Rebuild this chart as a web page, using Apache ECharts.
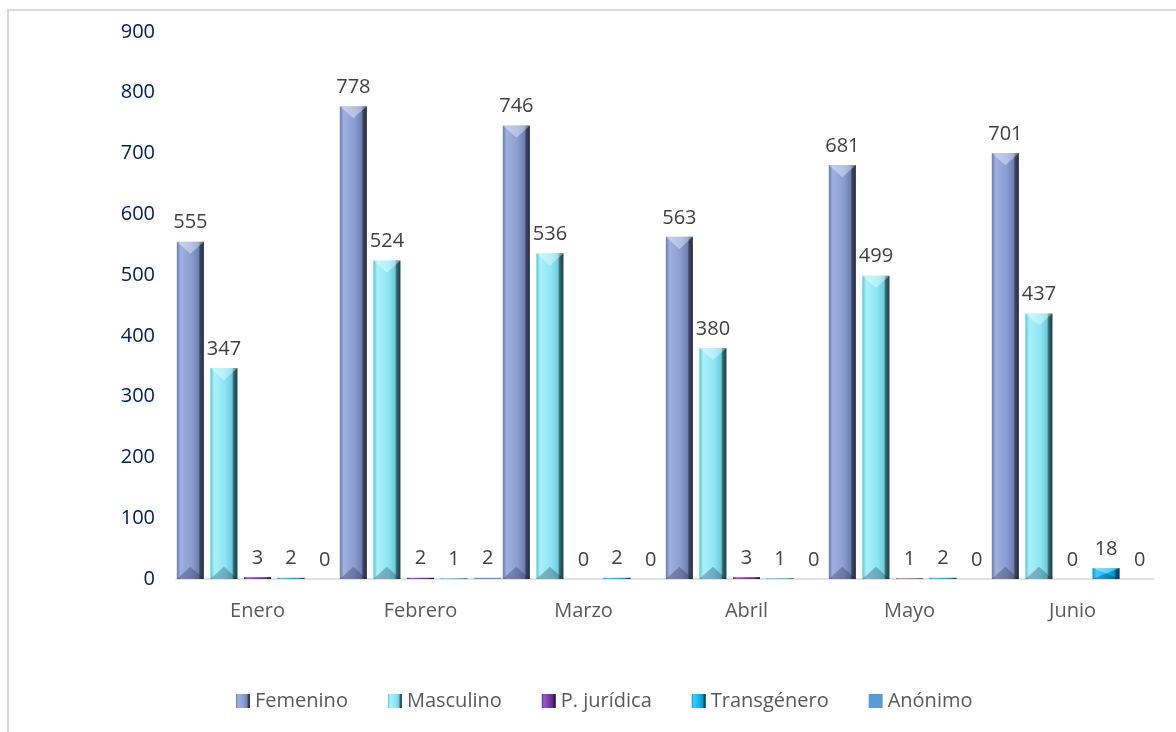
<!DOCTYPE html>
<html>
<head>
    <meta charset="UTF-8">
    <title>Denuncias por sexo</title>
    <script src="https://cdn.jsdelivr.net/npm/echarts@6/dist/echarts.min.js"></script>
    <style>
        html, body { margin: 0; padding: 0; background: #fff; }
        #main { width: 1176px; height: 732px; }
    </style>
</head>
<body>
<div id="main"></div>
<script type="text/javascript">
    // meses y series
    var meses = ['Enero', 'Febrero', 'Marzo', 'Abril', 'Mayo', 'Junio'];
    var femenino = [555, 778, 746, 563, 681, 701];
    var masculino = [347, 524, 536, 380, 499, 437];
    var juridica = [3, 2, 0, 3, 1, 0];
    var transgenero = [2, 1, 2, 1, 2, 18];
    var anonimo = [0, 2, 0, 0, 0, 0];

    var fuente = '"Open Sans", sans-serif';
    var nombres = ['Femenino', 'Masculino', 'P. jurídica', 'Transgénero', 'Anónimo'];
    var valores = [femenino, masculino, juridica, transgenero, anonimo];
    var GAP = 0.24, CAT_GAP = 0.01;

    function bisel(c) {
        // degradado horizontal para imitar la barra biselada
        return new echarts.graphic.LinearGradient(0, 0, 1, 0, [
            {offset: 0, color: c[0]},
            {offset: 0.14, color: c[1]},
            {offset: 0.55, color: c[2]},
            {offset: 0.8, color: c[3]},
            {offset: 0.86, color: c[4]},
            {offset: 1, color: c[5]}
        ]);
    }

    function serie(nombre, datos, color) {
        return {
            name: nombre,
            type: 'bar',
            data: datos,
            barGap: (GAP * 100) + '%',
            barCategoryGap: (CAT_GAP * 100) + '%',
            itemStyle: {color: color},
            label: {
                show: true,
                position: 'top',
                distance: 9,
                color: '#404040',
                fontSize: 20,
                fontFamily: fuente
            }
        };
    }

    // puntas del bisel (arriba clara, abajo oscura) sobre las barras altas
    var biseles = [];
    valores.forEach(function (serieVals, s) {
        serieVals.forEach(function (v, m) {
            if (v > 10) biseles.push([m, v, s]);
        });
    });

    function dibujaBisel(params, api) {
        var m = api.value(0), v = api.value(1), s = api.value(2);
        var ancho = api.size([1, 0])[0] * (1 - CAT_GAP);
        var bw = ancho / (5 + 4 * GAP);
        var arriba = api.coord([m, v]);
        var base = api.coord([m, 0]);
        var x0 = arriba[0] - ancho / 2 + s * bw * (1 + GAP);
        var x1 = x0 + bw;
        var d = Math.min(bw * 0.45, (base[1] - arriba[1]) / 2);
        return {
            type: 'group',
            children: [{
                type: 'polygon',
                shape: {points: [[x0, arriba[1]], [x1, arriba[1]], [(x0 + x1) / 2, arriba[1] + d]]},
                style: {fill: 'rgba(255,255,255,0.38)'}
            }, {
                type: 'polygon',
                shape: {points: [[x0, base[1]], [x1, base[1]], [(x0 + x1) / 2, base[1] - d]]},
                style: {fill: 'rgba(20,30,50,0.28)'}
            }]
        };
    }

    var colores = [
        bisel(['#6b7ba8', '#9fb0e0', '#8a9dd0', '#6f80b0', '#3a4465', '#262d45']),
        bisel(['#5cc2d3', '#a9f1fc', '#8de5f4', '#6fcbdb', '#2f6874', '#1c3f47']),
        bisel(['#5a2482', '#9a5ac8', '#7a36ac', '#64298e', '#3a1656', '#25103a']),
        bisel(['#0092c8', '#40ccff', '#0bb4f2', '#0096cc', '#005a7c', '#003a52']),
        '#5b9bd5'
    ];

    var series = nombres.map(function (n, i) {
        return serie(n, valores[i], colores[i]);
    });
    series.push({
        type: 'custom',
        name: 'bisel',
        data: biseles,
        renderItem: dibujaBisel,
        silent: true,
        z: 5
    });

    var myChart = echarts.init(document.getElementById('main'));
    var option = {
        backgroundColor: '#fff',
        animation: false,
        graphic: [{
            type: 'rect',
            shape: {x: 8, y: 10, width: 1300, height: 900},
            style: {fill: 'none', stroke: '#d9d9d9', lineWidth: 2},
            silent: true
        }],
        grid: {left: 176, right: 22, top: 32, bottom: 153},
        legend: {
            bottom: 16,
            left: 231,
            itemWidth: 14,
            itemHeight: 14,
            itemGap: 40,
            icon: 'rect',
            textStyle: {color: '#595959', fontSize: 20, fontFamily: fuente},
            data: nombres
        },
        xAxis: {
            type: 'category',
            data: meses,
            axisLine: {lineStyle: {color: '#d9d9d9', width: 1.5}},
            axisTick: {length: 7, lineStyle: {color: '#d9d9d9', width: 1.5}},
            axisLabel: {color: '#595959', fontSize: 20, fontFamily: fuente, margin: 22}
        },
        yAxis: {
            type: 'value',
            min: 0,
            max: 900,
            interval: 100,
            axisLine: {show: false},
            axisTick: {show: false},
            splitLine: {show: false},
            axisLabel: {color: '#002060', fontSize: 20, fontFamily: fuente, margin: 21}
        },
        series: series
    };
    myChart.setOption(option);
</script>
</body>
</html>
